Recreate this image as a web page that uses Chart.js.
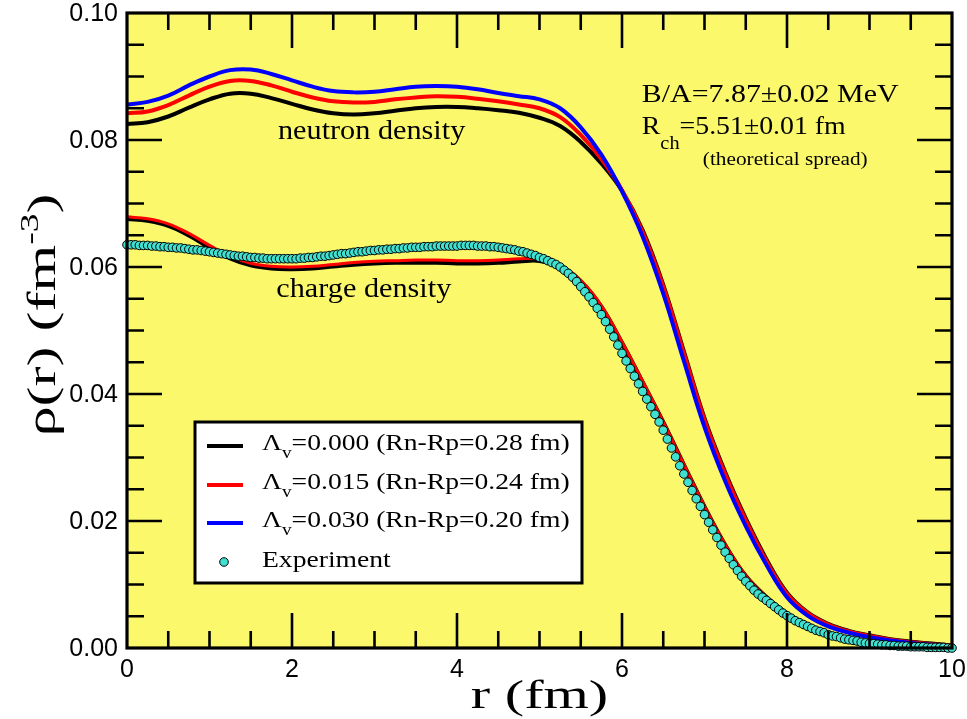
<!DOCTYPE html>
<html><head><meta charset="utf-8">
<script src="https://cdn.jsdelivr.net/npm/chart.js@4/dist/chart.umd.min.js"></script>
<style>html,body{margin:0;padding:0;background:#fff}canvas{display:block}</style>
</head><body>
<canvas id="c" width="967" height="719"></canvas>
<script>
// ---------- data ----------
const rTheory = [0,0.25,0.5,0.75,1,1.25,1.5,1.75,2,2.25,2.5,2.75,3,3.25,3.5,3.75,4,4.25,4.5,4.75,5,5.25,5.5,5.75,6,6.25,6.5,6.75,7,7.25,7.5,7.75,8,8.25,8.5,8.75,9,9.25,9.5,9.75,10];
const neutron000 = [0.0825,0.0828,0.0837,0.0851,0.0864,0.0873,0.0873,0.0866,0.0857,0.0848,0.0842,0.0840,0.0842,0.0846,0.0850,0.0852,0.0852,0.0850,0.0847,0.0843,0.0835,0.0822,0.0797,0.0763,0.0720,0.0658,0.0572,0.0467,0.0362,0.0277,0.0204,0.0140,0.0087,0.0056,0.0038,0.0027,0.0020,0.0014,0.0010,0.0007,0.0004];
const neutron015 = [0.0842,0.0845,0.0855,0.0870,0.0884,0.0893,0.0893,0.0886,0.0876,0.0867,0.0861,0.0859,0.0860,0.0864,0.0867,0.0869,0.0868,0.0865,0.0861,0.0856,0.0850,0.0836,0.0808,0.0770,0.0721,0.0655,0.0569,0.0464,0.0359,0.0274,0.0201,0.0137,0.0085,0.0055,0.0037,0.0026,0.0019,0.0013,0.0009,0.0006,0.0004];
const neutron030 = [0.0856,0.0860,0.0870,0.0886,0.0900,0.0910,0.0911,0.0904,0.0894,0.0884,0.0877,0.0875,0.0876,0.0880,0.0884,0.0885,0.0884,0.0880,0.0874,0.0869,0.0864,0.0850,0.0820,0.0777,0.0719,0.0648,0.0558,0.0452,0.0348,0.0263,0.0192,0.0131,0.0080,0.0051,0.0034,0.0024,0.0017,0.0012,0.0008,0.0005,0.0003];
const charge000 = [0.0676,0.0673,0.0665,0.0650,0.0631,0.0614,0.0603,0.0598,0.0597,0.0598,0.0601,0.0604,0.0606,0.0607,0.0607,0.0607,0.0606,0.0606,0.0607,0.0609,0.0610,0.0601,0.0577,0.0537,0.0480,0.0418,0.0355,0.0288,0.0222,0.0162,0.0113,0.0080,0.0054,0.0036,0.0023,0.0015,0.0009,0.0006,0.0004,0.0002,0.0001];
const charge015 = [0.0679,0.0676,0.0668,0.0653,0.0634,0.0617,0.0606,0.0601,0.0600,0.0601,0.0604,0.0607,0.0609,0.0610,0.0611,0.0611,0.0610,0.0610,0.0611,0.0613,0.0613,0.0603,0.0579,0.0539,0.0482,0.0420,0.0356,0.0289,0.0223,0.0163,0.0114,0.0080,0.0054,0.0036,0.0023,0.0015,0.0009,0.0006,0.0004,0.0002,0.0001];
// experiment: sampled every 0.05 fm from r = 0 to 10
const expStep = 0.05;
const expRho = [
0.0635,0.0635,0.0635,0.0634,0.0634,0.0634,0.0633,0.0633,0.0632,0.0632,
0.0631,0.0631,0.0630,0.0630,0.0629,0.0628,0.0627,0.0627,0.0626,0.0625,
0.0624,0.0623,0.0622,0.0621,0.0620,0.0619,0.0618,0.0617,0.0617,0.0616,
0.0615,0.0615,0.0614,0.0614,0.0613,0.0613,0.0613,0.0613,0.0613,0.0613,
0.0613,0.0613,0.0614,0.0614,0.0615,0.0615,0.0616,0.0617,0.0617,0.0618,
0.0619,0.0620,0.0621,0.0621,0.0622,0.0623,0.0624,0.0624,0.0625,0.0626,
0.0626,0.0627,0.0627,0.0628,0.0628,0.0629,0.0629,0.0630,0.0630,0.0631,
0.0631,0.0631,0.0632,0.0632,0.0632,0.0633,0.0633,0.0633,0.0633,0.0633,
0.0633,0.0634,0.0634,0.0634,0.0634,0.0633,0.0633,0.0633,0.0632,0.0632,
0.0631,0.0630,0.0629,0.0628,0.0627,0.0625,0.0624,0.0622,0.0620,0.0618,
0.0615,0.0613,0.0610,0.0607,0.0604,0.0600,0.0595,0.0590,0.0584,0.0577,
0.0569,0.0561,0.0553,0.0544,0.0535,0.0525,0.0514,0.0502,0.0490,0.0477,
0.0464,0.0452,0.0440,0.0428,0.0416,0.0404,0.0392,0.0380,0.0368,0.0356,
0.0343,0.0329,0.0315,0.0301,0.0287,0.0274,0.0261,0.0248,0.0235,0.0223,
0.0210,0.0198,0.0186,0.0174,0.0162,0.0151,0.0141,0.0131,0.0122,0.0113,
0.0105,0.0098,0.0091,0.0085,0.0080,0.0075,0.0070,0.0065,0.0060,0.0055,
0.0051,0.0047,0.0043,0.0040,0.0037,0.0034,0.0031,0.0028,0.0026,0.0024,
0.0021,0.0019,0.0018,0.0016,0.0014,0.0013,0.0012,0.0011,0.0009,0.0008,
0.0007,0.0007,0.0006,0.0005,0.0005,0.0004,0.0004,0.0003,0.0003,0.0003,
0.0002,0.0002,0.0002,0.0002,0.0001,0.0001,0.0001,0.0001,0.0001,0.0000,
0.0000];
const lambdaLabels = ['0.000','0.015','0.030'];
const rnrpLabels = ['0.28','0.24','0.20'];
const seriesColors = ['#000000','#ff0000','#0000ff'];
const expColor = '#40e0d0';
const xTicksMajor = [0,2,4,6,8,10];
const yTicksMajor = [0,0.02,0.04,0.06,0.08,0.10];

// ---------- helpers ----------
const SERIF = '"Liberation Serif","Times New Roman",serif';
const SANS = '"Liberation Sans",Arial,sans-serif';
const pts = (xs, ys) => ys.map((y, i) => ({x: xs[i], y}));
const expPts = expRho.map((y, i) => ({x: +(i * expStep).toFixed(2), y}));

function lineDs(label, data, color, w) {
  return {label, data, showLine: true, borderColor: color, backgroundColor: color,
    borderWidth: w, pointRadius: 0, tension: 0.4, fill: false};
}
function segWidth(ctx, segs, sx) {
  let w = 0;
  for (const [t, size] of segs) { ctx.font = size + 'px ' + SERIF; w += ctx.measureText(t).width * sx; }
  return w;
}
function rich(ctx, x, y, segs, sx) {
  let cx = x;
  for (const [t, size, dy] of segs) {
    ctx.save();
    ctx.font = size + 'px ' + SERIF;
    ctx.translate(cx, y + dy);
    ctx.scale(sx, 1);
    ctx.fillText(t, 0, 0);
    cx += ctx.measureText(t).width * sx;
    ctx.restore();
  }
  return cx - x;
}

const bgPlugin = {
  id: 'bg',
  beforeDatasetsDraw(chart) {
    const {ctx, chartArea: a} = chart;
    ctx.save();
    ctx.fillStyle = '#fbf86c';
    ctx.fillRect(a.left, a.top, a.right - a.left, a.bottom - a.top);
    ctx.restore();
  }
};

const framePlugin = {
  id: 'frame',
  afterDatasetsDraw(chart) {
    const {ctx, chartArea: a, scales: {x, y}} = chart;
    ctx.save();
    ctx.strokeStyle = '#000';
    ctx.lineWidth = 2.6;
    ctx.beginPath();
    for (let k = 1; k < 20; k++) {
      const v = k * 0.5;
      const px = x.getPixelForValue(v);
      const L = (k % 4 === 0) ? 35 : 17;
      ctx.moveTo(px, a.bottom); ctx.lineTo(px, a.bottom - L);
      ctx.moveTo(px, a.top); ctx.lineTo(px, a.top + L);
    }
    for (let k = 1; k < 20; k++) {
      const v = k * 0.005;
      const py = y.getPixelForValue(v);
      const L = (k % 4 === 0) ? 35 : 17;
      ctx.moveTo(a.left, py); ctx.lineTo(a.left + L, py);
      ctx.moveTo(a.right, py); ctx.lineTo(a.right - L, py);
    }
    ctx.stroke();
    ctx.lineWidth = 3.2;
    ctx.strokeRect(a.left, a.top, a.right - a.left, a.bottom - a.top);

    // tick labels
    ctx.fillStyle = '#000';
    ctx.font = '25px ' + SANS;
    ctx.textAlign = 'center'; ctx.textBaseline = 'alphabetic';
    for (const v of xTicksMajor) ctx.fillText(String(v), x.getPixelForValue(v), a.bottom + 29);
    ctx.textAlign = 'right'; ctx.textBaseline = 'middle';
    for (const v of yTicksMajor) ctx.fillText(v.toFixed(2), a.left - 9, y.getPixelForValue(v) + 1);
    ctx.restore();
  }
};

const textPlugin = {
  id: 'texts',
  afterDraw(chart) {
    const {ctx, chartArea: a, scales: {x, y}} = chart;
    ctx.save();
    ctx.fillStyle = '#000';
    ctx.textBaseline = 'alphabetic';
    ctx.textAlign = 'left';
    // curve labels
    rich(ctx, x.getPixelForValue(1.83), y.getPixelForValue(0.0801), [['neutron density', 27, 0]], 1.12);
    rich(ctx, x.getPixelForValue(1.81), y.getPixelForValue(0.0553), [['charge density', 27, 0]], 1.12);
    // B/A and Rch
    const tx = x.getPixelForValue(6.24);
    rich(ctx, tx, y.getPixelForValue(0.0860), [['B/A=7.87±0.02 MeV', 26, 0]], 1.15);
    rich(ctx, tx, y.getPixelForValue(0.0809), [['R', 26, 0], ['ch', 19, 15], ['=5.51±0.01 fm', 26, 0]], 1.07);
    rich(ctx, x.getPixelForValue(6.98), y.getPixelForValue(0.0761), [['(theoretical spread)', 19, 0]], 1.12);

    // legend
    const L = {x0: 195, y0: 422, x1: 582, y1: 583};
    ctx.fillStyle = '#fff';
    ctx.fillRect(L.x0, L.y0, L.x1 - L.x0, L.y1 - L.y0);
    ctx.strokeStyle = '#000'; ctx.lineWidth = 3;
    ctx.strokeRect(L.x0, L.y0, L.x1 - L.x0, L.y1 - L.y0);
    const rows = [446, 485, 523];
    ctx.lineWidth = 4;
    for (let i = 0; i < 3; i++) {
      ctx.strokeStyle = seriesColors[i];
      ctx.beginPath(); ctx.moveTo(207, rows[i]); ctx.lineTo(243, rows[i]); ctx.stroke();
      ctx.fillStyle = '#000';
      rich(ctx, 262, rows[i] + 4, [['Λ', 23, 0], ['v', 16, 8], ['=' + lambdaLabels[i] + ' (Rn-Rp=' + rnrpLabels[i] + ' fm)', 23, 0]], 1.2);
    }
    ctx.beginPath(); ctx.arc(224, 562, 4.3, 0, Math.PI * 2);
    ctx.fillStyle = expColor; ctx.fill();
    ctx.lineWidth = 1; ctx.strokeStyle = '#000'; ctx.stroke();
    ctx.fillStyle = '#000';
    rich(ctx, 262, 567, [['Experiment', 23, 0]], 1.2);

    // axis titles
    const cx = (a.left + a.right) / 2;
    const xSegs = [['r (fm)', 41, 0]];
    const tw = segWidth(ctx, xSegs, 1.42);
    rich(ctx, cx - tw / 2, 708, xSegs, 1.42);

    ctx.save();
    ctx.translate(55, 315);
    ctx.rotate(-Math.PI / 2);
    const ySegs = [['ρ(r) (fm', 40, 0], ['-3', 25, -17], [')', 40, 0]];
    const yw = segWidth(ctx, ySegs, 1.5);
    rich(ctx, -yw / 2, 0, ySegs, 1.5);
    ctx.restore();
    ctx.restore();
  }
};

const datasets = [
  {label: 'Experiment', data: expPts, showLine: false, pointRadius: 4.3, pointBorderWidth: 1,
   pointBackgroundColor: expColor, pointBorderColor: '#000', clip: false},
  lineDs('charge ' + lambdaLabels[1], pts(rTheory, charge015), seriesColors[1], 3),
  lineDs('charge ' + lambdaLabels[0], pts(rTheory, charge000), seriesColors[0], 4.5),
  lineDs('neutron ' + lambdaLabels[2], pts(rTheory, neutron030), seriesColors[2], 4),
  lineDs('neutron ' + lambdaLabels[1], pts(rTheory, neutron015), seriesColors[1], 4),
  lineDs('neutron ' + lambdaLabels[0], pts(rTheory, neutron000), seriesColors[0], 4),
];

new Chart(document.getElementById('c'), {
  type: 'scatter',
  data: {datasets},
  options: {
    responsive: false, animation: false, devicePixelRatio: 1,
    layout: {padding: {top: 13, right: 15, left: 0, bottom: 0}},
    plugins: {legend: {display: false}, tooltip: {enabled: false}},
    scales: {
      x: {type: 'linear', min: 0, max: 10,
          afterFit: s => { s.height = 71; },
          ticks: {display: false},
          grid: {display: false, drawTicks: false}, border: {display: false}},
      y: {type: 'linear', min: 0, max: 0.1,
          afterFit: s => { s.width = 127; },
          ticks: {display: false},
          grid: {display: false, drawTicks: false}, border: {display: false}}
    }
  },
  plugins: [bgPlugin, framePlugin, textPlugin]
});
</script>
</body></html>
